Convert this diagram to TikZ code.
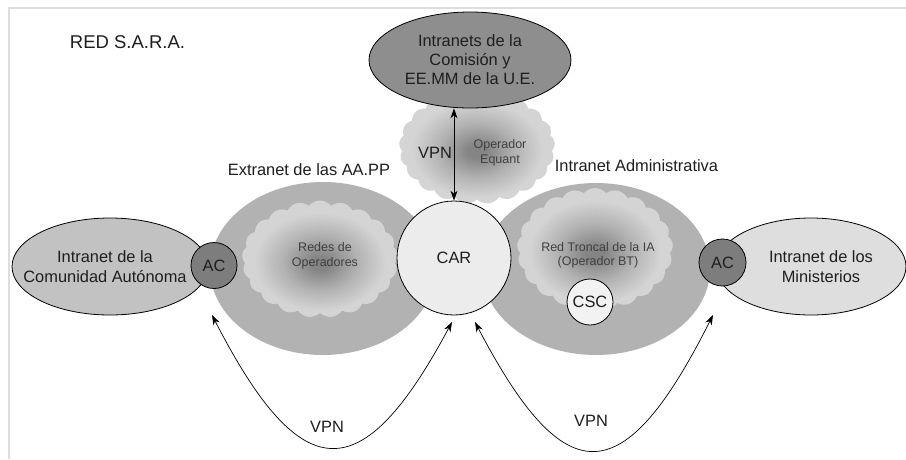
\documentclass[tikz,border=0pt]{standalone}
\usepackage{fontspec}
\setmainfont{Liberation Sans}
\usetikzlibrary{shapes.geometric,shapes.symbols,arrows.meta}
\definecolor{framec}{HTML}{DDDDDD}
\definecolor{bigc}{HTML}{B2B2B2}
\definecolor{topc}{HTML}{8E8E8E}
\definecolor{leftc}{HTML}{C2C2C2}
\definecolor{rightc}{HTML}{DEDEDE}
\definecolor{acc}{HTML}{7D7D7D}
\definecolor{carc}{HTML}{ECECEC}
\definecolor{cscc}{HTML}{F2F2F2}
\definecolor{cin}{HTML}{858585}
\definecolor{cmid}{HTML}{B2B2B2}
\definecolor{cout}{HTML}{D4D4D4}
\definecolor{txt}{HTML}{1E1E1E}
\definecolor{cltxt}{HTML}{404040}
\pgfdeclareradialshading{cloudsh}{\pgfpoint{0bp}{-2bp}}{color(0bp)=(cin); color(3bp)=(cin); color(12bp)=(cmid); color(21bp)=(cout); color(50bp)=(cout)}
\begin{document}
\begin{tikzpicture}[x=1pt,y=-1pt,
  lbl/.style={font=\fontsize{16.4}{20.5}\selectfont, text=txt, align=center, inner sep=0},
  smalltxt/.style={font=\fontsize{12.5}{14.5}\selectfont, text=cltxt, align=center, inner sep=0},
  bigell/.style={ellipse, fill=bigc, inner sep=0},
  bordered/.style={draw=black, line width=0.8},
  cloudn/.style={cloud, cloud puffs=21, cloud puff arc=100, cloud ignores aspect, shading=cloudsh, inner sep=0},
  roundn/.style={circle, bordered, inner sep=0, lbl},
  vpnarrow/.style={{Stealth[length=10pt,width=7pt]}-{Stealth[length=10pt,width=7pt]}, line width=0.7, draw=black}
]
\useasboundingbox (0,0) rectangle (906,459);
\fill[white] (0,0) rectangle (906,459);
\draw[framec, line width=1.5] (9,459) -- (9,8) -- (906,8);

% big grey ellipses
\node[bigell, minimum width=226, minimum height=173] (extra) at (323,268.5) {};
\node[bigell, minimum width=228, minimum height=172] (intra) at (596,269) {};

% clouds
\node[cloudn, minimum width=156, minimum height=114] (equant) at (477,147) {};
\node[cloudn, minimum width=156, minimum height=117] (redes) at (320,259) {};
\node[cloudn, minimum width=156, minimum height=122] (troncal) at (595,249) {};

% top ellipse
\node[ellipse, bordered, fill=topc, minimum width=202, minimum height=96, lbl,
      font=\fontsize{16.4}{19}\selectfont] (ue) at (470,60)
      {Intranets de la\\Comisión y\\EE.MM de la U.E.};

% CAR
\node[roundn, fill=carc, minimum size=114] (car) at (454,258) {CAR};

% side ellipses
\node[ellipse, bordered, fill=leftc, minimum width=196, minimum height=97, inner sep=0] (ca) at (110,266.5) {};
\node[ellipse, bordered, fill=rightc, minimum width=190, minimum height=97, inner sep=0] (min) at (811,266.5) {};
\node[lbl] (catxt) at (105,266.5) {Intranet de la\\Comunidad Autónoma};
\node[lbl] (mintxt) at (821,266.7) {Intranet de los\\Ministerios};

% AC circles
\node[roundn, fill=acc, minimum size=46] (acl) at (214,265.5) {AC};
\node[roundn, fill=acc, minimum size=47] (acr) at (722.5,262.5) {AC};

% CSC
\node[roundn, fill=cscc, minimum size=46] (csc) at (590,302) {CSC};

% cloud texts
\node[smalltxt] (equanttxt) at (500,153) {Operador\\Equant};
\node[smalltxt] (redestxt) at (325,256) {Redes de\\Operadores};
\node[smalltxt] (troncaltxt) at (598,255.3) {Red Troncal de la IA\\(Operador BT)};

% labels
\node[lbl, anchor=base, font=\fontsize{18.5}{22}\selectfont] (title) at (127.5,48) {RED S.A.R.A.};
\node[lbl, anchor=base] (extralbl) at (309,175) {Extranet de las AA.PP};
\node[lbl, anchor=base] (intralbl) at (636.5,171) {Intranet Administrativa};
\node[lbl, anchor=base] (vpntop) at (435,158) {VPN};
\node[lbl, anchor=base] (vpnl) at (327,432) {VPN};
\node[lbl, anchor=base] (vpnr) at (591,426) {VPN};

% connectors
\draw[vpnarrow] (ue.south -| car.north) -- (car.north);
\coordinate (l1) at (212,315);
\coordinate (l2) at (452,322);
\coordinate (r1) at (475,322);
\coordinate (r2) at (713,315);
\draw[vpnarrow] (l1) .. controls (302,490) and (362,490) .. (l2);
\draw[vpnarrow] (r1) .. controls (565,494) and (623,494) .. (r2);
\end{tikzpicture}
\end{document}
